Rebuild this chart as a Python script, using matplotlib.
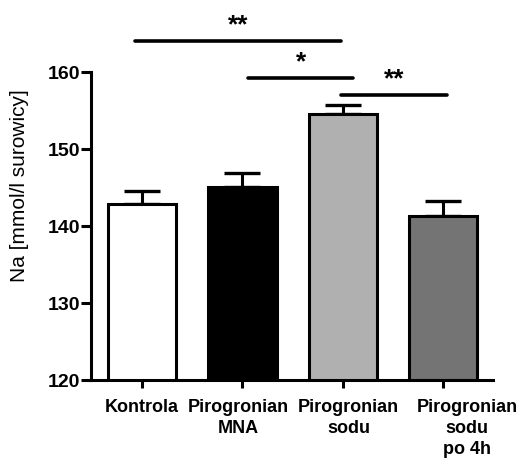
import matplotlib.pyplot as plt
from matplotlib.transforms import ScaledTranslation

groups = ["Kontrola", "Pirogronian\nMNA", "Pirogronian\nsodu", "Pirogronian\nsodu\npo 4h"]
means = [142.8, 145.1, 154.6, 141.3]
sem = [1.8, 1.8, 1.1, 2.0]
colors = ["#ffffff", "#000000", "#b0b0b0", "#747474"]

# significance brackets: (x start, x end, y, label)
sig_x0 = [-0.07, 1.06, 1.98]
sig_x1 = [1.98, 2.10, 3.04]
sig_y = [164.0, 159.2, 157.0]
sig_lab = ["**", "*", "**"]

plt.rcParams['font.family'] = ['Liberation Sans', 'DejaVu Sans']
fig = plt.figure(figsize=(5.23, 4.59), dpi=100)
ax = fig.add_axes([0.174, 0.172, 0.769, 0.671])

x = list(range(len(groups)))
ax.bar(x, means, width=0.68, color=colors, edgecolor='black', linewidth=2.2, zorder=2)
ax.errorbar(x, means, yerr=[[0] * len(sem), sem], fmt='none', ecolor='black',
            elinewidth=2.2, capsize=13, capthick=2.4, zorder=1)

ax.set_xlim(-0.51, 3.5)
ax.set_ylim(120, 160)
ax.set_yticks([120, 130, 140, 150, 160])
ax.set_xticks(x)
ax.set_xticklabels(groups, fontweight='bold', fontsize=13, linespacing=1.3)
for lab in ax.get_yticklabels():
    lab.set_fontweight('bold')
    lab.set_fontsize(14)
ax.tick_params(axis='y', length=7, width=2.2, pad=1)
ax.tick_params(axis='x', length=6, width=2.2, pad=8)
# labels are not exactly centred under their ticks in the original (px shifts)
for lbl, dx in zip(ax.get_xticklabels(), [0, -4, 6, 24]):
    lbl.set_transform(lbl.get_transform() + ScaledTranslation(dx / 100, 0, fig.dpi_scale_trans))

ax.spines['top'].set_visible(False)
ax.spines['right'].set_visible(False)
ax.spines['left'].set_linewidth(2.2)
ax.spines['bottom'].set_linewidth(2.2)
ax.set_ylabel('Na [mmol/l surowicy]', fontsize=15)
ax.yaxis.set_label_coords(-0.155, 0.63)

for x0, x1, y, s in zip(sig_x0, sig_x1, sig_y, sig_lab):
    ax.plot([x0, x1], [y, y], color='black', linewidth=2.6, solid_capstyle='round', clip_on=False)
    ax.text((x0 + x1) / 2, y + 1.1, s, ha='center', va='baseline', fontsize=19,
            fontweight='bold', clip_on=False)

fig.savefig('out.png', dpi=100)
